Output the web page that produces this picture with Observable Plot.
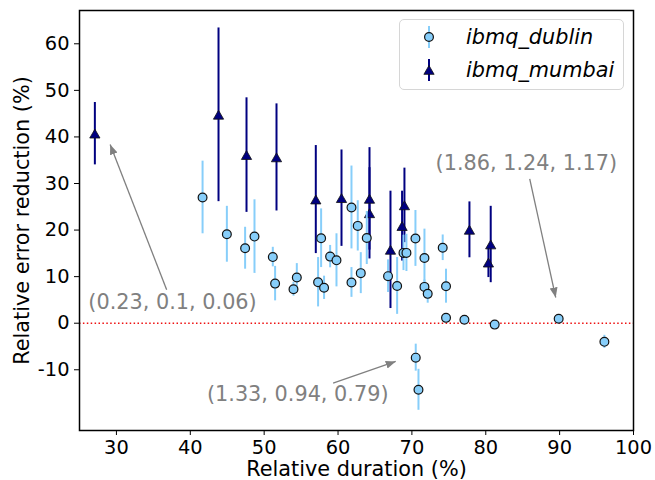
<!DOCTYPE html>
<html>
<head>
<meta charset="utf-8">
<script src="https://cdn.jsdelivr.net/npm/d3@7"></script>
<script src="https://cdn.jsdelivr.net/npm/@observablehq/plot@0.6"></script>
<style>
  body { margin: 0; background: #fff; }
  #wrap { position: relative; width: 655px; height: 480px; overflow: hidden; font-family: "DejaVu Sans", sans-serif; }
  #legend { position: absolute; left: 399px; top: 19px; width: 225px; height: 71px; box-sizing: border-box;
            border: 1px solid #d6d6d6; border-radius: 5px; background: rgba(255,255,255,0.8); }
  .lrow { position: absolute; left: 0; height: 30px; width: 100%; }
  .lrow svg { position: absolute; left: 17px; top: 3px; }
  .lrow span { position: absolute; left: 66px; top: 0; line-height: 30px; font-size: 20.8px; font-style: italic; color: #000; white-space: nowrap; }
</style>
</head>
<body>
<div id="wrap"></div>
<script>
// ---- data ----
const seriesNames = ["ibmq_dublin", "ibmq_mumbai"];
const seriesColors = ["#87CEFA", "#000080"];

// ibmq_dublin: relative duration (%), relative error reduction (%), error half-width
const dublinX = [41.66, 44.95, 47.42, 48.69, 51.17, 51.48, 54.42, 53.97, 57.71, 57.3, 58.11, 58.93, 59.79,
  61.82, 62.67, 63.89, 61.82, 63.08, 66.77, 68.0, 68.86, 69.26, 70.48, 71.7, 71.7, 72.14, 74.17, 74.62,
  74.62, 77.11, 81.21, 89.87, 96.06, 70.52, 70.89];
const dublinY = [27.0, 19.1, 16.1, 18.6, 14.2, 8.5, 9.8, 7.3, 18.25, 8.8, 7.6, 14.3, 13.5,
  24.85, 20.9, 18.3, 8.75, 10.75, 10.1, 8.0, 15.1, 15.1, 18.2, 14.0, 7.8, 6.3, 16.2, 7.95,
  1.15, 0.75, -0.3, 0.95, -4.0, -7.4, -14.3];
const dublinErr = [7.8, 6.0, 4.5, 7.9, 2.1, 3.7, 3.0, 1.5, 6.3, 5.3, 2.5, 2.4, 5.7,
  8.9, 5.4, 5.7, 3.2, 4.4, 3.5, 6.1, 3.8, 4.0, 6.0, 6.2, 1.5, 2.0, 2.75, 3.65,
  0.3, 0.2, 0.2, 0.2, 1.4, 2.9, 4.4];

// ibmq_mumbai
const mumbaiX = [27.08, 43.82, 47.61, 51.67, 56.99, 60.47, 64.26, 64.26, 67.1, 68.99, 68.67, 77.79, 80.67, 80.36];
const mumbaiY = [40.7, 44.75, 36.1, 35.6, 26.55, 26.85, 26.7, 23.6, 15.75, 25.3, 20.85, 20.05, 16.9, 13.0];
const mumbaiErr = [6.7, 18.65, 12.3, 11.5, 11.6, 10.35, 11.0, 9.8, 12.6, 8.0, 7.5, 6.0, 8.2, 3.2];

// axes
const xTicks = [30, 40, 50, 60, 70, 80, 90, 100];
const yTicks = [-10, 0, 10, 20, 30, 40, 50, 60];
const xLabel = "Relative duration (%)";
const yLabel = "Relative error reduction (%)";

// annotations (data coordinates)
const annTexts = ["(0.23, 0.1, 0.06)", "(1.86, 1.24, 1.17)", "(1.33, 0.94, 0.79)"];
const annTextX = [26.2, 73.2, 42.25];
const annTextY = [4.5, 34.4, -15.3];
const annFromX = [36.8, 85.95, 59.33];
const annFromY = [7.2, 31.0, -12.88];
const annToX = [29.15, 89.47, 67.81];
const annToY = [38.37, 5.52, -8.22];

// ---- build tables ----
const dublin = dublinX.map((x, i) => ({x, y: dublinY[i], e: dublinErr[i]}));
const mumbai = mumbaiX.map((x, i) => ({x, y: mumbaiY[i], e: mumbaiErr[i]}));
const ann = annTexts.map((t, i) => ({t, tx: annTextX[i], ty: annTextY[i],
  fx: annFromX[i], fy: annFromY[i], ax: annToX[i], ay: annToY[i]}));

const plot = Plot.plot({
  width: 655,
  height: 480,
  marginLeft: 79,
  marginRight: 22,
  marginTop: 10,
  marginBottom: 50,
  style: {fontFamily: "DejaVu Sans", fontSize: "19.4px", color: "black", background: "white", overflow: "visible"},
  x: {domain: [25, 100], ticks: xTicks, tickSize: 5, tickPadding: 5, label: null, tickFormat: d => String(d)},
  y: {domain: [-23.04, 67.15], ticks: yTicks, tickSize: 5, tickPadding: 5, label: null, tickFormat: d => String(d)},
  marks: [
    Plot.ruleY([0], {stroke: "#ee1111", strokeWidth: 1.5, strokeDasharray: "1.5,2.4"}),
    Plot.ruleX(mumbai, {x: "x", y1: d => d.y - d.e, y2: d => d.y + d.e, stroke: seriesColors[1], strokeWidth: 2}),
    Plot.dot(mumbai, {x: "x", y: "y", symbol: "triangle", r: 3.8, fill: seriesColors[1], stroke: "#111", strokeWidth: 0.8, dy: 1.4}),
    Plot.ruleX(dublin, {x: "x", y1: d => d.y - d.e, y2: d => d.y + d.e, stroke: seriesColors[0], strokeWidth: 2}),
    Plot.dot(dublin, {x: "x", y: "y", r: 4.4, fill: seriesColors[0], stroke: "#111", strokeWidth: 1.2}),
    Plot.link(ann, {x1: "fx", y1: "fy", x2: "ax", y2: "ay", stroke: "#808080", strokeWidth: 1.3, markerEnd: "arrow"}),
    Plot.text(ann, {x: "tx", y: "ty", text: "t", fill: "#808080", fontSize: 20.8, textAnchor: "start", lineAnchor: "middle"}),
    Plot.text([xLabel], {text: d => d, frameAnchor: "bottom", dy: 38.5, fontSize: 20.8, fill: "black", textAnchor: "middle", lineAnchor: "middle"}),
    Plot.text([yLabel], {text: d => d, frameAnchor: "left", dx: -57, rotate: -90, fontSize: 20.8, fill: "black", textAnchor: "middle", lineAnchor: "middle"}),
    Plot.frame({stroke: "black", strokeWidth: 1.5})
  ]
});

// filled arrowheads (matplotlib "-|>" style)
plot.querySelectorAll("marker").forEach(m => {
  m.setAttribute("viewBox", "-10 -5 10 10");
  m.setAttribute("markerUnits", "userSpaceOnUse");
  m.setAttribute("markerWidth", "10");
  m.setAttribute("markerHeight", "10");
  m.setAttribute("refX", "0");
  m.setAttribute("refY", "0");
  const p = m.querySelector("path");
  if (p) {
    p.setAttribute("d", "M0,0L-10,-4L-10,4Z");
    p.setAttribute("fill", "#808080");
    p.setAttribute("stroke", "none");
  }
});

const wrap = document.getElementById("wrap");
wrap.appendChild(plot);

// legend
const legend = document.createElement("div");
legend.id = "legend";
const icons = [
  `<svg width="24" height="24" viewBox="-12 -12 24 24"><line x1="0" y1="-11" x2="0" y2="11" stroke="${seriesColors[0]}" stroke-width="2"/><circle r="4.4" fill="${seriesColors[0]}" stroke="#111" stroke-width="1.2"/></svg>`,
  `<svg width="24" height="24" viewBox="-12 -12 24 24"><line x1="0" y1="-11" x2="0" y2="11" stroke="${seriesColors[1]}" stroke-width="2"/><path d="${d3.symbol(d3.symbolTriangle, Math.PI * 3.8 * 3.8)()}" transform="translate(0,1.4)" fill="${seriesColors[1]}" stroke="#111" stroke-width="0.8"/></svg>`
];
const rowTops = [2, 35];
seriesNames.forEach((name, i) => {
  const row = document.createElement("div");
  row.className = "lrow";
  row.style.top = rowTops[i] + "px";
  row.innerHTML = icons[i] + `<span>${name}</span>`;
  legend.appendChild(row);
});
wrap.appendChild(legend);
</script>
</body>
</html>
